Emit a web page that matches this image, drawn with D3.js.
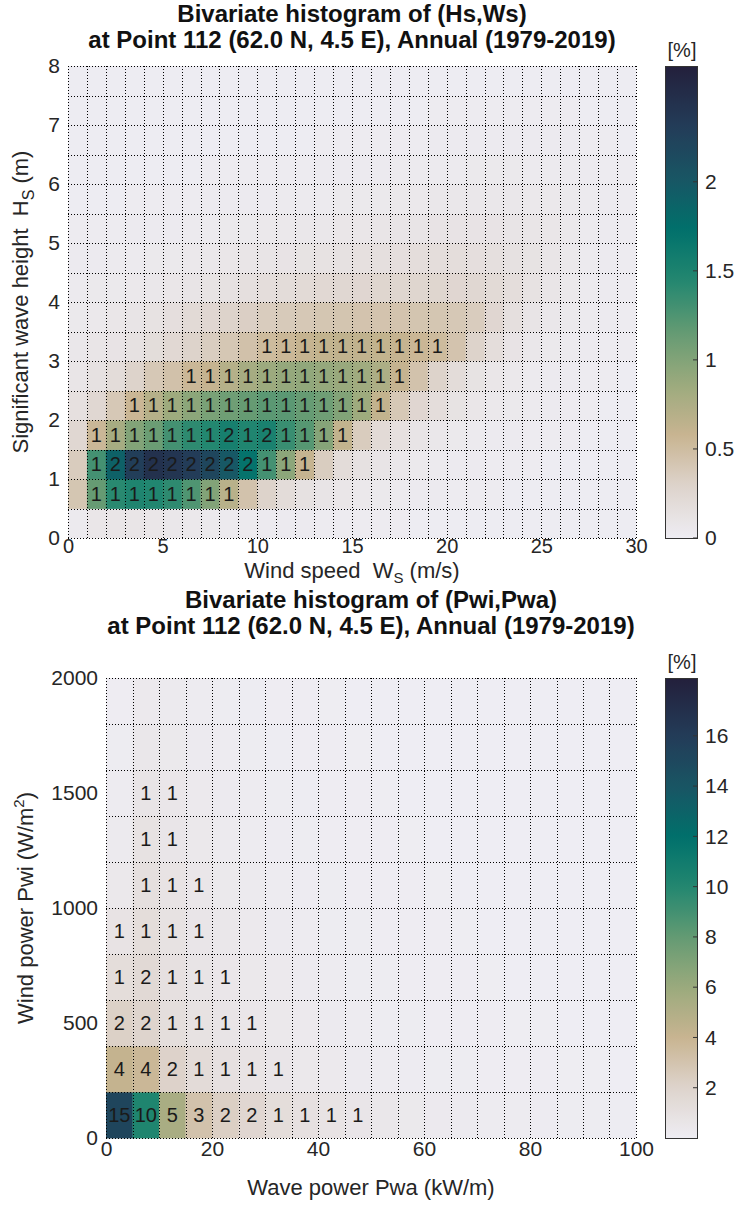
<!DOCTYPE html>
<html>
<head>
<meta charset="utf-8">
<script src="https://cdn.jsdelivr.net/npm/d3@7"></script>
<style>
  body { margin: 0; background: #fff; }
  svg text { font-family: "Liberation Sans", Arial, Helvetica, sans-serif; white-space: pre; }
</style>
</head>
<body>
<svg id="fig" width="739" height="1215"></svg>
<script>
// ---------- Hs / Ws joint histogram (percent of all records) ----------
const wsEdges = d3.range(0, 31, 1);          // wind speed bin edges (m/s)
const hsEdges = d3.range(0, 8.01, 0.5);      // wave height bin edges (m)
const wsTicks = [0, 5, 10, 15, 20, 25, 30];
const hsTicks = [0, 1, 2, 3, 4, 5, 6, 7, 8];
const hsWsTitle = ["Bivariate histogram of (Hs,Ws)", "at Point 112 (62.0 N, 4.5 E), Annual (1979-2019)"];
const hsWsCbarTicks = [0, 0.5, 1, 1.5, 2];
const hsWsCbarMax = 2.65;

// one row per Hs bin (lowest first), one value per Ws bin
const hsWs00 = [0.04,0.08,0.09,0.09,0.08,0.07,0.06,0.05,0.04,0.04,0.03,0.03,0.03,0.02,0.02,0.02,0.02,0.02,0.01,0.01,0.01,0.01,0.01,0.01,0.01,0.01,0.01,0.01,0.01,0.01];
const hsWs05 = [0.42,1.15,1.42,1.48,1.46,1.40,1.25,1.00,0.68,0.45,0.30,0.20,0.14,0.10,0.08,0.06,0.05,0.04,0.03,0.03,0.02,0.02,0.02,0.01,0.01,0.01,0.01,0.01,0.01,0.01];
const hsWs10 = [0.36,1.30,1.90,2.30,2.45,2.40,2.32,2.20,2.00,1.70,1.30,0.95,0.60,0.35,0.20,0.14,0.10,0.07,0.05,0.04,0.03,0.03,0.02,0.02,0.02,0.01,0.01,0.01,0.01,0.01];
const hsWs15 = [0.25,0.55,0.80,1.00,1.12,1.30,1.40,1.45,1.55,1.47,1.52,1.35,1.22,0.98,0.62,0.36,0.22,0.15,0.10,0.07,0.05,0.04,0.03,0.03,0.02,0.02,0.02,0.01,0.01,0.01];
const hsWs20 = [0.15,0.25,0.40,0.56,0.70,0.85,0.95,1.05,1.10,1.15,1.20,1.20,1.15,1.10,1.00,0.85,0.62,0.40,0.26,0.18,0.12,0.08,0.06,0.05,0.04,0.03,0.02,0.02,0.01,0.01];
const hsWs25 = [0.09,0.14,0.20,0.30,0.40,0.46,0.55,0.60,0.70,0.80,0.86,0.90,0.92,0.90,0.88,0.84,0.76,0.60,0.45,0.30,0.20,0.12,0.08,0.06,0.04,0.03,0.03,0.02,0.02,0.01];
const hsWs30 = [0.07,0.09,0.11,0.14,0.19,0.24,0.30,0.35,0.41,0.46,0.52,0.55,0.60,0.62,0.63,0.63,0.62,0.60,0.56,0.52,0.44,0.30,0.18,0.11,0.07,0.05,0.04,0.03,0.02,0.02];
const hsWs35 = [0.05,0.06,0.08,0.10,0.13,0.17,0.22,0.26,0.30,0.33,0.36,0.38,0.40,0.42,0.43,0.44,0.44,0.44,0.43,0.42,0.40,0.36,0.26,0.16,0.10,0.07,0.05,0.04,0.03,0.02];
const hsWs40 = [0.04,0.05,0.05,0.06,0.07,0.08,0.10,0.12,0.14,0.16,0.18,0.20,0.22,0.24,0.25,0.26,0.27,0.27,0.27,0.27,0.26,0.25,0.22,0.18,0.13,0.09,0.06,0.04,0.03,0.02];
const hsWs45 = [0.03,0.03,0.04,0.04,0.05,0.05,0.06,0.07,0.08,0.09,0.10,0.11,0.12,0.13,0.14,0.15,0.16,0.17,0.18,0.18,0.18,0.17,0.16,0.14,0.12,0.09,0.06,0.04,0.03,0.02];
const hsWs50 = [0.02,0.02,0.02,0.03,0.03,0.03,0.04,0.04,0.05,0.05,0.06,0.06,0.07,0.07,0.08,0.08,0.09,0.10,0.10,0.11,0.11,0.11,0.11,0.10,0.09,0.08,0.06,0.04,0.03,0.02];
const hsWs55 = [0.01,0.01,0.01,0.02,0.02,0.02,0.02,0.03,0.03,0.03,0.03,0.04,0.04,0.04,0.05,0.05,0.05,0.06,0.06,0.07,0.07,0.07,0.07,0.07,0.06,0.06,0.05,0.04,0.03,0.02];
const hsWs60 = [0.01,0.01,0.01,0.01,0.01,0.01,0.01,0.02,0.02,0.02,0.02,0.02,0.02,0.03,0.03,0.03,0.03,0.04,0.04,0.04,0.04,0.05,0.05,0.05,0.04,0.04,0.04,0.03,0.02,0.02];
const hsWs65 = [0.01,0.01,0.01,0.01,0.01,0.01,0.01,0.01,0.01,0.01,0.01,0.01,0.01,0.02,0.02,0.02,0.02,0.02,0.02,0.03,0.03,0.03,0.03,0.03,0.03,0.03,0.03,0.02,0.02,0.01];
const hsWs70 = [0.01,0.01,0.01,0.01,0.01,0.01,0.01,0.01,0.01,0.01,0.01,0.01,0.01,0.01,0.01,0.01,0.01,0.01,0.01,0.02,0.02,0.02,0.02,0.02,0.02,0.02,0.02,0.01,0.01,0.01];
const hsWs75 = [0.01,0.01,0.01,0.01,0.01,0.01,0.01,0.01,0.01,0.01,0.01,0.01,0.01,0.01,0.01,0.01,0.01,0.01,0.01,0.01,0.01,0.01,0.01,0.01,0.01,0.01,0.01,0.01,0.01,0.01];
const hsWsRows = [hsWs00,hsWs05,hsWs10,hsWs15,hsWs20,hsWs25,hsWs30,hsWs35,hsWs40,hsWs45,hsWs50,hsWs55,hsWs60,hsWs65,hsWs70,hsWs75];

// ---------- Pwi / Pwa joint histogram ----------
const pwaEdges = d3.range(0, 101, 5);        // wave power bin edges (kW/m)
const pwiEdges = d3.range(0, 2001, 200);     // wind power bin edges (W/m^2)
const pwaTicks = [0, 20, 40, 60, 80, 100];
const pwiTicks = [0, 500, 1000, 1500, 2000];
const pwTitle = ["Bivariate histogram of (Pwi,Pwa)", "at Point 112 (62.0 N, 4.5 E), Annual (1979-2019)"];
const pwCbarTicks = [2, 4, 6, 8, 10, 12, 14, 16];
const pwCbarMax = 18.3;

const pw0000 = [15.3,10.2,5.4,3.1,2.3,1.8,1.3,1.0,0.8,0.6,0.45,0.35,0.28,0.22,0.18,0.15,0.12,0.10,0.08,0.07];
const pw0200 = [4.2,3.8,2.1,1.4,1.0,0.8,0.6,0.4,0.3,0.2,0.15,0.12,0.10,0.08,0.06,0.05,0.04,0.03,0.03,0.02];
const pw0400 = [2.2,2.0,1.2,0.9,0.7,0.55,0.4,0.3,0.2,0.15,0.10,0.08,0.06,0.05,0.04,0.03,0.03,0.02,0.02,0.01];
const pw0600 = [1.3,1.6,1.0,0.7,0.55,0.4,0.3,0.2,0.15,0.10,0.08,0.06,0.05,0.04,0.03,0.02,0.02,0.01,0.01,0.01];
const pw0800 = [0.8,1.3,0.9,0.6,0.45,0.3,0.2,0.15,0.10,0.08,0.06,0.05,0.04,0.03,0.02,0.02,0.01,0.01,0.01,0.01];
const pw1000 = [0.4,1.1,0.8,0.55,0.35,0.25,0.18,0.12,0.08,0.06,0.05,0.04,0.03,0.02,0.02,0.01,0.01,0.01,0.01,0.01];
const pw1200 = [0.25,0.9,0.6,0.4,0.25,0.18,0.12,0.08,0.06,0.05,0.04,0.03,0.02,0.02,0.01,0.01,0.01,0.01,0.01,0.01];
const pw1400 = [0.15,0.7,0.55,0.3,0.2,0.14,0.10,0.07,0.05,0.04,0.03,0.02,0.02,0.01,0.01,0.01,0.01,0.01,0.01,0.01];
const pw1600 = [0.10,0.45,0.35,0.2,0.14,0.10,0.07,0.05,0.04,0.03,0.02,0.02,0.01,0.01,0.01,0.01,0.01,0.01,0.01,0.01];
const pw1800 = [0.06,0.3,0.25,0.15,0.10,0.07,0.05,0.04,0.03,0.02,0.02,0.01,0.01,0.01,0.01,0.01,0.01,0.01,0.01,0.01];
const pwRows = [pw0000,pw0200,pw0400,pw0600,pw0800,pw1000,pw1200,pw1400,pw1600,pw1800];

// sequential "rain"-style colormap: pale grey -> tan -> olive -> green -> teal -> navy
const rainPos = [0, 0.109, 0.219, 0.328, 0.437, 0.546, 0.656, 0.765, 0.875, 1];
const rainCol = ["#eeedf3","#ded4cd","#c8b491","#9baa7d","#649b73","#238770","#00706b","#195564","#233c58","#23203c"];
const rain = d3.scaleLinear().domain(rainPos).range(rainCol)
  .interpolate(d3.interpolateRgb).clamp(true);

const svg = d3.select("#fig");
const TXT = "#262626";
const FONT = '"Liberation Sans", Arial, sans-serif';
const snap = v => Math.round(v) + 0.5;

function drawPanel(o) {
  const g = svg.append("g");
  const x = d3.scaleLinear().domain(o.xDomain).range([o.left, o.right]);
  const y = d3.scaleLinear().domain(o.yDomain).range([o.bottom, o.top]);
  const c = v => rain(v / o.cmax);

  // cells
  const cells = [];
  o.rows.forEach((row, r) => row.forEach((v, k) => cells.push({
    x0: o.xEdges[k], x1: o.xEdges[k + 1], y0: o.yEdges[r], y1: o.yEdges[r + 1], v
  })));
  g.append("g").selectAll("rect").data(cells).join("rect")
    .attr("x", d => x(d.x0)).attr("y", d => y(d.y1))
    .attr("width", d => x(d.x1) - x(d.x0) + 0.4)
    .attr("height", d => y(d.y0) - y(d.y1) + 0.4)
    .attr("fill", d => c(d.v));

  // dotted cell borders
  const grid = g.append("g").attr("stroke", "#000").attr("stroke-width", 1)
    .attr("stroke-dasharray", "1 2").attr("shape-rendering", "crispEdges");
  o.xEdges.forEach(e => grid.append("line")
    .attr("x1", snap(x(e))).attr("x2", snap(x(e)))
    .attr("y1", y(o.yDomain[0])).attr("y2", y(o.yDomain[1])));
  o.yEdges.forEach(e => grid.append("line")
    .attr("y1", snap(y(e))).attr("y2", snap(y(e)))
    .attr("x1", x(o.xDomain[0])).attr("x2", x(o.xDomain[1])));

  // rounded percentages
  g.append("g").selectAll("text").data(cells.filter(d => Math.round(d.v) >= 1)).join("text")
    .attr("x", d => (x(d.x0) + x(d.x1)) / 2)
    .attr("y", d => (y(d.y0) + y(d.y1)) / 2)
    .attr("text-anchor", "middle").attr("dy", "0.36em")
    .attr("font-size", o.cellFont).attr("fill", "#1a1a1a")
    .text(d => Math.round(d.v));

  // axes (labels only)
  const ax = g.append("g").attr("transform", `translate(0,${o.bottom})`)
    .call(d3.axisBottom(x).tickValues(o.xTicks).tickSize(0).tickPadding(o.xTickPad).tickFormat(d3.format("d")));
  const ay = g.append("g").attr("transform", `translate(${o.left},0)`)
    .call(d3.axisLeft(y).tickValues(o.yTicks).tickSize(0).tickPadding(8).tickFormat(d3.format("d")));
  ax.selectAll("text").attr("font-size", o.xTickFont);
  ay.selectAll("text").attr("font-size", 21);
  [ax, ay].forEach(a => {
    a.select(".domain").remove();
    a.selectAll("text").attr("fill", TXT).style("font-family", FONT);
  });

  // titles
  o.title.forEach((t, i) => g.append("text")
    .attr("x", (o.left + o.right) / 2).attr("y", o.titleY + i * 26)
    .attr("text-anchor", "middle").attr("font-size", 24).attr("font-weight", "bold")
    .attr("fill", "#111").text(t));

  // axis labels
  const xl = g.append("text").attr("x", (o.left + o.right) / 2).attr("y", o.xLabelY)
    .attr("text-anchor", "middle").attr("font-size", 22).attr("fill", TXT);
  o.xLabel(xl);
  const yl = g.append("text")
    .attr("transform", `translate(${o.yLabelX},${(o.top + o.bottom) / 2}) rotate(-90)`)
    .attr("text-anchor", "middle").attr("font-size", 22).attr("fill", TXT);
  o.yLabel(yl);

  // colorbar
  const cb = { x: 665, w: 32, top: o.top, bottom: o.bottom };
  const cy = d3.scaleLinear().domain([0, o.cmax]).range([cb.bottom, cb.top]);
  const gid = "grad" + o.id;
  const grad = svg.append("defs").append("linearGradient").attr("id", gid)
    .attr("x1", 0).attr("x2", 0).attr("y1", 1).attr("y2", 0);
  d3.range(0, 1.0001, 0.02).forEach(t => grad.append("stop")
    .attr("offset", t).attr("stop-color", rain(t)));
  g.append("rect").attr("x", cb.x + 0.5).attr("y", cb.top + 0.5).attr("width", cb.w)
    .attr("height", cb.bottom - cb.top).attr("fill", `url(#${gid})`)
    .attr("stroke", "#333").attr("stroke-width", 1);
  const ca = g.append("g").attr("transform", `translate(${cb.x + cb.w},0)`)
    .call(d3.axisRight(cy).tickValues(o.cTicks).tickSize(0).tickPadding(8)
      .tickFormat(d3.format("")));
  ca.select(".domain").remove();
  ca.selectAll("text").attr("font-size", 21).attr("fill", TXT).style("font-family", FONT);
  g.append("g").selectAll("line").data(o.cTicks).join("line")
    .attr("x1", cb.x + cb.w - 4).attr("x2", cb.x + cb.w)
    .attr("y1", d => cy(d)).attr("y2", d => cy(d))
    .attr("stroke", "#333").attr("stroke-width", 1);
  g.append("text").attr("x", cb.x + cb.w / 2 + 1).attr("y", cb.top - 9)
    .attr("text-anchor", "middle").attr("font-size", 20).attr("fill", TXT).text("[%]");
}

drawPanel({
  id: "hs", left: 68, right: 636, top: 66, bottom: 538,
  xDomain: [0, 30], yDomain: [0, 8], xEdges: wsEdges, yEdges: hsEdges, rows: hsWsRows,
  xTicks: wsTicks, yTicks: hsTicks, cmax: hsWsCbarMax, cTicks: hsWsCbarTicks,
  title: hsWsTitle, titleY: 22, xLabelY: 578, yLabelX: 28, cellFont: 20,
  xTickPad: 1, xTickFont: 20,
  xLabel: t => { t.append("tspan").text("Wind speed  W");
    t.append("tspan").attr("font-size", 15).attr("dy", 5).text("S");
    t.append("tspan").attr("dy", -5).text(" (m/s)"); },
  yLabel: t => { t.append("tspan").text("Significant wave height  H");
    t.append("tspan").attr("font-size", 16).attr("dy", 6).text("S");
    t.append("tspan").attr("dy", -6).text(" (m)"); }
});

drawPanel({
  id: "pw", left: 106, right: 636, top: 678, bottom: 1138,
  xDomain: [0, 100], yDomain: [0, 2000], xEdges: pwaEdges, yEdges: pwiEdges, rows: pwRows,
  xTicks: pwaTicks, yTicks: pwiTicks, cmax: pwCbarMax, cTicks: pwCbarTicks,
  title: pwTitle, titleY: 608, xLabelY: 1195, yLabelX: 33, cellFont: 20,
  xTickPad: 3, xTickFont: 21,
  xLabel: t => t.text("Wave power Pwa (kW/m)"),
  yLabel: t => { t.append("tspan").text("Wind power Pwi (W/m");
    t.append("tspan").attr("font-size", 15).attr("dy", -9).text("2");
    t.append("tspan").attr("dy", 9).text(")"); }
});
</script>
</body>
</html>
